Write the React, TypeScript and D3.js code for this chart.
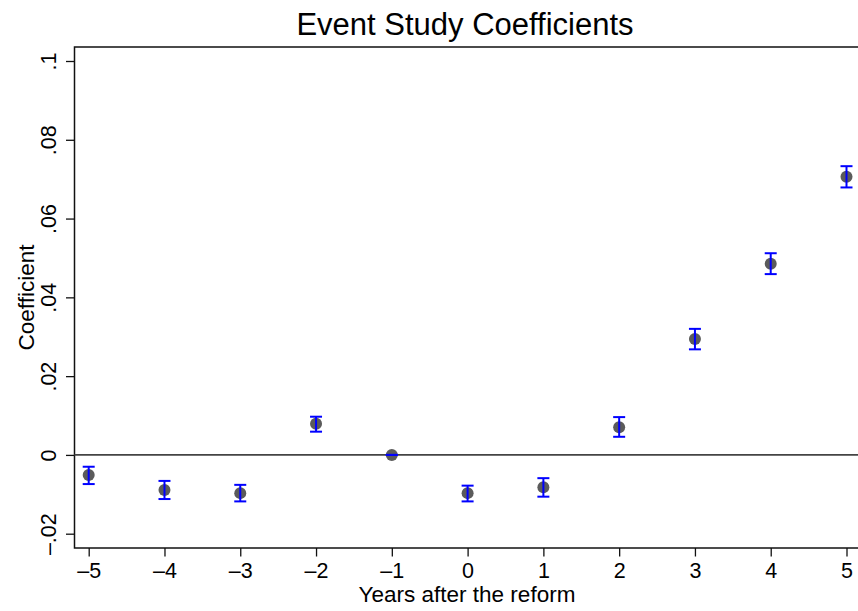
import React, { useRef, useEffect } from "react";
import * as d3 from "d3";

const years = [-5, -4, -3, -2, -1, 0, 1, 2, 3, 4, 5];
const coef = [-0.0051, -0.0089, -0.0097, 0.0079, 0, -0.0097, -0.0082, 0.007, 0.0294, 0.0485, 0.0706];
const ciLow = [-0.0074, -0.0112, -0.0118, 0.0059, 0, -0.0118, -0.0106, 0.0046, 0.0268, 0.0459, 0.0679];
const ciHigh = [-0.003, -0.0066, -0.0076, 0.0097, 0, -0.0078, -0.0059, 0.0096, 0.032, 0.0512, 0.0733];
const yTicks = [-0.02, 0, 0.02, 0.04, 0.06, 0.08, 0.1];
const yTickLabels = ["–.02", "0", ".02", ".04", ".06", ".08", ".1"];
const xTickLabels = ["–5", "–4", "–3", "–2", "–1", "0", "1", "2", "3", "4", "5"];

const font = "'Liberation Sans', Arial, Helvetica, sans-serif";

const App = () => {
  const ref = useRef<SVGSVGElement>(null);
  const width = 858;
  const height = 611;

  useEffect(() => {
    const svg = d3.select(ref.current);
    svg.selectAll("*").remove();

    // plot frame (right edge runs past the picture)
    const frame = { left: 74.5, top: 47, right: 862, bottom: 548 };

    const x = d3.scaleLinear().domain([-5, 5]).range([88.7, 846.5]);
    const y = d3.scaleLinear().domain([-0.02, 0.1]).range([533.7, 61]);

    svg.attr("width", width).attr("height", height);

    svg
      .append("rect")
      .attr("x", frame.left)
      .attr("y", frame.top)
      .attr("width", frame.right - frame.left)
      .attr("height", frame.bottom - frame.top)
      .attr("fill", "#fff")
      .attr("stroke", "#111")
      .attr("stroke-width", 1.5);

    // y axis
    const yAxis = svg
      .append("g")
      .attr("transform", `translate(${frame.left},0)`)
      .call(
        d3
          .axisLeft(y)
          .tickValues(yTicks)
          .tickSize(8.5)
          .tickPadding(0)
          .tickFormat((d, i) => yTickLabels[i])
      );
    yAxis.select(".domain").remove();
    yAxis.selectAll("line").attr("stroke", "#111").attr("stroke-width", 1.3);
    yAxis
      .selectAll("text")
      .attr("transform", "translate(-19,0) rotate(-90)")
      .attr("x", 0)
      .attr("y", 0)
      .attr("dy", 0)
      .attr("text-anchor", "middle")
      .style("font-family", font)
      .style("font-size", "21.5px")
      .attr("fill", "#000");

    // x axis
    const xAxis = svg
      .append("g")
      .attr("transform", `translate(0,${frame.bottom})`)
      .call(
        d3
          .axisBottom(x)
          .tickValues(years)
          .tickSize(8.5)
          .tickPadding(0)
          .tickFormat((d, i) => xTickLabels[i])
      );
    xAxis.select(".domain").remove();
    xAxis.selectAll("line").attr("stroke", "#111").attr("stroke-width", 1.3);
    xAxis
      .selectAll("text")
      .attr("y", 30)
      .attr("dy", 0)
      .style("font-family", font)
      .style("font-size", "21.5px")
      .attr("fill", "#000");

    // zero line
    svg
      .append("line")
      .attr("x1", frame.left)
      .attr("x2", frame.right)
      .attr("y1", y(0))
      .attr("y2", y(0))
      .attr("stroke", "#444")
      .attr("stroke-width", 1.8);

    const data = years.map((yr, i) => ({ yr, c: coef[i], lo: ciLow[i], hi: ciHigh[i] }));

    svg
      .append("g")
      .selectAll("circle")
      .data(data)
      .enter()
      .append("circle")
      .attr("cx", (d) => x(d.yr))
      .attr("cy", (d) => y(d.c))
      .attr("r", 6)
      .attr("fill", "#5b5b5b");

    const ci = svg.append("g").attr("stroke", "#0000ff").attr("stroke-width", 2);
    const cap = 6;
    ci.selectAll(".stem")
      .data(data)
      .enter()
      .append("line")
      .attr("x1", (d) => x(d.yr))
      .attr("x2", (d) => x(d.yr))
      .attr("y1", (d) => y(d.lo))
      .attr("y2", (d) => y(d.hi));
    ci.selectAll(".capHi")
      .data(data)
      .enter()
      .append("line")
      .attr("x1", (d) => x(d.yr) - cap)
      .attr("x2", (d) => x(d.yr) + cap)
      .attr("y1", (d) => y(d.hi))
      .attr("y2", (d) => y(d.hi));
    ci.selectAll(".capLo")
      .data(data)
      .enter()
      .append("line")
      .attr("x1", (d) => x(d.yr) - cap)
      .attr("x2", (d) => x(d.yr) + cap)
      .attr("y1", (d) => y(d.lo))
      .attr("y2", (d) => y(d.lo));

    // titles
    svg
      .append("text")
      .attr("x", 465)
      .attr("y", 35)
      .attr("text-anchor", "middle")
      .style("font-family", font)
      .style("font-size", "31px")
      .text("Event Study Coefficients");

    svg
      .append("text")
      .attr("x", 467)
      .attr("y", 602)
      .attr("text-anchor", "middle")
      .style("font-family", font)
      .style("font-size", "22.5px")
      .text("Years after the reform");

    svg
      .append("text")
      .attr("transform", `translate(34,${(frame.top + frame.bottom) / 2}) rotate(-90)`)
      .attr("text-anchor", "middle")
      .style("font-family", font)
      .style("font-size", "22.5px")
      .text("Coefficient");
  }, []);

  return <svg ref={ref} style={{ position: "absolute", left: 0, top: 0 }}></svg>;
};

export default App;
